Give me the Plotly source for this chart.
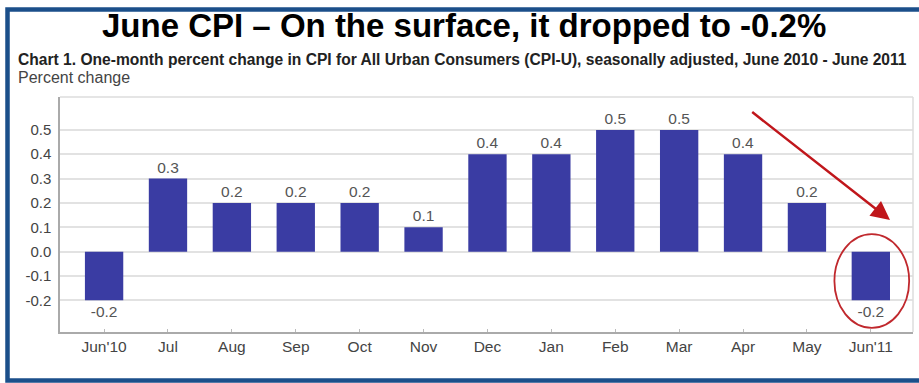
import plotly.graph_objects as go

months = ["Jun'10", "Jul", "Aug", "Sep", "Oct", "Nov", "Dec", "Jan", "Feb", "Mar", "Apr", "May", "Jun'11"]
values = [-0.2, 0.3, 0.2, 0.2, 0.2, 0.1, 0.4, 0.4, 0.5, 0.5, 0.4, 0.2, -0.2]
ytick_vals = [-0.2, -0.1, 0.0, 0.1, 0.2, 0.3, 0.4, 0.5]
ytick_text = ["-0.2", "-0.1", "0.0", "0.1", "0.2", "0.3", "0.4", "0.5"]

W, H = 919, 383
L, R, T, B = 60, 6, 97, 51
pw, ph = W - L - R, H - T - B

def px_x(x):
    return (x - L) / pw

def px_y(y):
    return (H - B - y) / ph

FONT = "Liberation Sans, Arial"
xi = list(range(len(months)))
fig = go.Figure()
fig.add_trace(go.Bar(
    x=xi, y=values, width=0.6,
    marker=dict(color="#3a3ca3", line=dict(width=0)),
    text=[f"{v:.1f}" for v in values], textposition="outside",
    textfont=dict(family=FONT, size=15.5, color="#555555"),
    cliponaxis=False,
))

fig.update_layout(
    width=W, height=H, margin=dict(l=L, r=R, t=T, b=B),
    paper_bgcolor="white", plot_bgcolor="white", showlegend=False,
    font=dict(family=FONT, color="#444444"),
    xaxis=dict(
        range=[-0.69, 12.66], tickmode="array", tickvals=xi, ticktext=months,
        showgrid=False, showline=True, linecolor="#aaaaaa", linewidth=1.5,
        ticks="inside", ticklen=3, tickcolor="#bbbbbb",
        tickfont=dict(size=15.5, color="#444444"), mirror=False, zeroline=False,
    ),
    yaxis=dict(
        range=[-0.33, 0.635], tickmode="array", tickvals=ytick_vals, ticktext=ytick_text,
        showgrid=True, gridcolor="#e2e2e2", gridwidth=1.5,
        showline=True, linecolor="#aaaaaa", linewidth=1.5,
        zeroline=False, ticks="", ticklabelstandoff=4,
        tickfont=dict(size=15, color="#444444"),
    ),
    bargap=0.4,
)

shapes = []
shapes.append(dict(type="line", xref="paper", yref="paper", x0=0, x1=1, y0=1, y1=1,
                   line=dict(color="#dddddd", width=1.5)))
shapes.append(dict(type="line", xref="paper", yref="paper", x0=1, x1=1, y0=0, y1=1,
                   line=dict(color="#dddddd", width=1.5)))
shapes.append(dict(type="rect", xref="paper", yref="paper",
                   x0=px_x(7.5), x1=px_x(930), y0=px_y(380.5), y1=px_y(9.5),
                   line=dict(color="#1b4f8a", width=4.5), layer="above"))
last = len(months) - 1
shapes.append(dict(type="circle", xref="x", yref="y",
                   x0=last - 0.57, x1=last + 0.6, y0=-0.313, y1=0.072,
                   line=dict(color="#c0282d", width=1.8)))
fig.update_layout(shapes=shapes)

ann = []
ann.append(dict(text="<b>June CPI – On the surface, it dropped to -0.2%</b>",
                xref="paper", yref="paper", x=px_x(464), y=px_y(26),
                xanchor="center", yanchor="middle", showarrow=False,
                font=dict(family=FONT, size=33, color="#000000")))
ann.append(dict(text="<b>Chart 1. One-month percent change in CPI for All Urban Consumers (CPI-U), seasonally adjusted, June 2010 - June 2011</b>",
                xref="paper", yref="paper", x=px_x(16), y=px_y(59),
                xanchor="left", yanchor="middle", showarrow=False,
                font=dict(family=FONT, size=15.6, color="#222222")))
ann.append(dict(text="Percent change",
                xref="paper", yref="paper", x=px_x(16), y=px_y(77),
                xanchor="left", yanchor="middle", showarrow=False,
                font=dict(family=FONT, size=16, color="#444444")))
ann.append(dict(x=12.3, y=0.13, ax=10.12, ay=0.578, xref="x", yref="y", axref="x", ayref="y",
                text="", showarrow=True, arrowhead=2, arrowsize=1.5, arrowwidth=2.5,
                arrowcolor="#c0161b"))
fig.update_layout(annotations=ann)

fig.write_html("out.html")
